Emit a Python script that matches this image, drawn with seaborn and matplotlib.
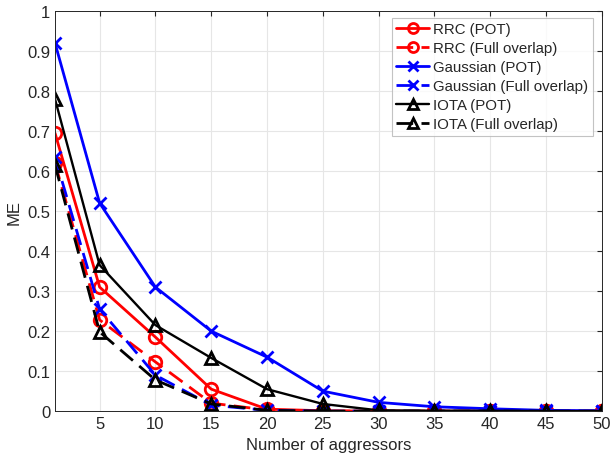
import numpy as np
import pandas as pd
import matplotlib
matplotlib.use('Agg')
import matplotlib.pyplot as plt
import seaborn as sns

# aggressor counts on x axis
aggressors = [1, 5, 10, 15, 20, 25, 30, 35, 40, 45, 50]

# ME values
rrc_pot = [0.695, 0.31, 0.185, 0.055, 0.005, 0.001, 0, 0, 0, 0, 0]
rrc_full = [0.62, 0.228, 0.123, 0.02, 0.003, 0, 0, 0, 0, 0, 0]
gauss_pot = [0.92, 0.52, 0.31, 0.20, 0.135, 0.05, 0.022, 0.011, 0.006, 0.002, 0.001]
gauss_full = [0.635, 0.255, 0.09, 0.015, 0.002, 0, 0, 0, 0, 0, 0]
iota_pot = [0.78, 0.365, 0.215, 0.133, 0.055, 0.018, 0.002, 0.001, 0.001, 0, 0]
iota_full = [0.615, 0.198, 0.078, 0.018, 0.002, 0, 0, 0, 0, 0, 0]

series = [
    ('RRC (POT)', rrc_pot, 'red', 'o', '-', 2.0),
    ('RRC (Full overlap)', rrc_full, 'red', 'o', '--', 2.0),
    ('Gaussian (POT)', gauss_pot, 'blue', 'x', '-', 2.0),
    ('Gaussian (Full overlap)', gauss_full, 'blue', 'x', '--', 2.0),
    ('IOTA (POT)', iota_pot, 'black', '^', '-', 1.7),
    ('IOTA (Full overlap)', iota_full, 'black', '^', '--', 2.0),
]

sns.set_style('white')
plt.rcParams['font.family'] = ['Liberation Sans', 'DejaVu Sans']

fig, ax = plt.subplots(figsize=(6.11, 4.6), dpi=100)
fig.subplots_adjust(left=0.09, right=0.985, bottom=0.104, top=0.974)

for name, vals, col, mk, ls, lw in series:
    df = pd.DataFrame({'x': aggressors, 'y': vals})
    line_kw = dict(dashes=(6, 3)) if ls == '--' else dict(linestyle='-')
    sns.lineplot(data=df, x='x', y='y', ax=ax, color=col, marker=mk,
                 linewidth=lw, markersize=9, markerfacecolor='none',
                 markeredgecolor=col, markeredgewidth=2, label=name, **line_kw)

ax.set_xlim(1, 50)
ax.set_ylim(0, 1)
ax.set_xticks(range(5, 51, 5))
ax.set_yticks(np.arange(0, 1.01, 0.1))
ax.set_yticklabels(['0', '0.1', '0.2', '0.3', '0.4', '0.5', '0.6', '0.7', '0.8', '0.9', '1'])
ax.grid(True, color='#e6e6e6', linewidth=0.8)
ax.tick_params(direction='in', top=True, right=True, labelsize=12, colors='#262626',
               length=3.5)
for s in ax.spines.values():
    s.set_color('#262626')
    s.set_linewidth(0.7)
ax.set_xlabel('Number of aggressors', fontsize=12, color='#262626')
ax.set_ylabel('ME', fontsize=12, color='#262626')

leg = ax.legend(loc='upper right', bbox_to_anchor=(0.9835, 0.9825), fontsize=10.8,
                frameon=True, fancybox=False, edgecolor='#b5b5b5',
                handlelength=2.2, borderpad=0.3, borderaxespad=0,
                labelspacing=0.33, handletextpad=0.25, markerscale=0.8)
leg.get_frame().set_linewidth(0.8)

fig.savefig('out.png', dpi=100)
